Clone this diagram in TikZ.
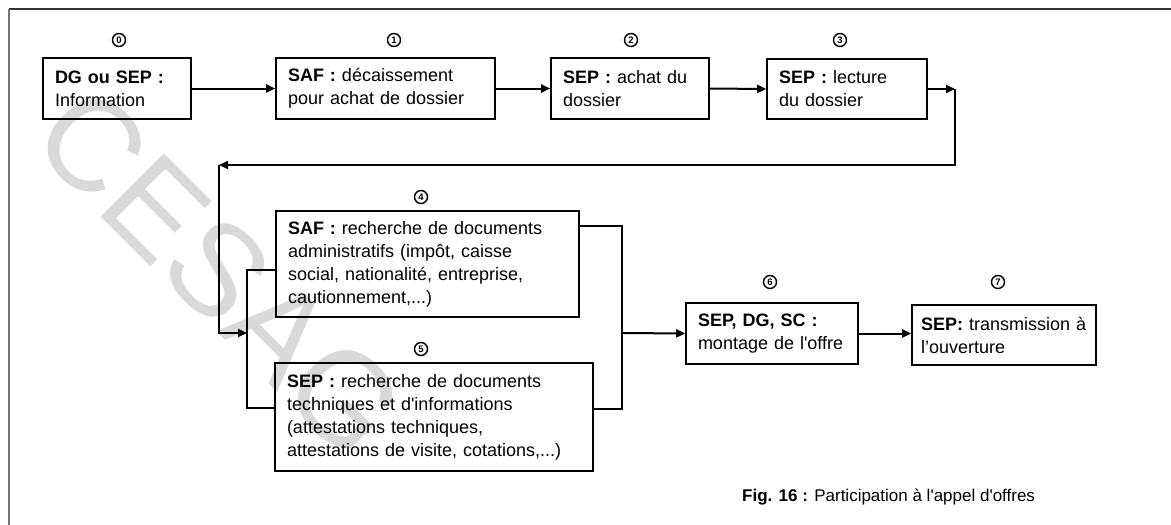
\documentclass[tikz,border=0pt]{standalone}
\usepackage{fontspec}
\setmainfont{Liberation Sans}
\usetikzlibrary{arrows.meta,calc}

\begin{document}
\begin{tikzpicture}[x=1pt,y=-1pt,
  stepbox/.style={draw, line width=1.6pt, inner xsep=12pt, inner ysep=0pt,
    align=left, font=\fontsize{18}{23}\selectfont},
  flow/.style={line width=2pt, -{Triangle[length=9pt,width=8pt]}},
  link/.style={line width=1.5pt},
  num/.style={circle, draw, line width=1.4pt, inner sep=0pt, minimum size=13pt,
    font=\bfseries\fontsize{9.5}{9.5}\selectfont},
  wmark/.style={rotate=-45, text=black!15, inner sep=0pt,
    font=\fontsize{130}{130}\selectfont}
]
\useasboundingbox (0,0) rectangle (1171,525);

% faint stamp behind the figure
\node[wmark] (stamp) at (220,272) {CESAG};

% frame
\draw[line width=1.8pt, black!80] (9,9) -- (1171,9);
\draw[line width=1.3pt, black!55] (9,9) -- (9,525);

% first row
\node[stepbox, minimum width=148pt, text width=124pt, minimum height=61pt] (b0) at (117,88.5)
  {\textbf{DG ou SEP :}\\Information};
\node[stepbox, minimum width=219pt, text width=195pt, minimum height=61pt] (b1) at (385.5,88.5)
  {\textbf{SAF :} décaissement\\pour achat de dossier};
\node[stepbox, minimum width=158pt, text width=134pt, minimum height=61pt] (b2) at (630,88.5)
  {\textbf{SEP :} achat du\\dossier};
\node[stepbox, minimum width=160pt, text width=136pt, minimum height=60pt] (b3) at (847,89)
  {\textbf{SEP :} lecture\\du dossier};

% parallel tasks
\node[stepbox, minimum width=303pt, text width=279pt, minimum height=106pt] (b4) at (427.5,264)
  {\textbf{SAF :} recherche de documents\\administratifs (impôt, caisse\\social, nationalité, entreprise,\\cautionnement,...)};
\node[stepbox, minimum width=318pt, text width=294pt, minimum height=108pt] (b5) at (434,417)
  {\textbf{SEP :} recherche de documents\\techniques et d\textquotesingle informations\\(attestations techniques,\\attestations de visite, cotations,...)};

% last row
\node[stepbox, minimum width=172pt, text width=148pt, minimum height=61pt] (b6) at (772,333.5)
  {\textbf{SEP, DG, SC :}\\montage de l\textquotesingle offre};
\node[stepbox, inner xsep=9pt, minimum width=184pt, text width=166pt, minimum height=60pt] (b7) at (1004,335)
  {\textbf{SEP:} transmission à\\l'ouverture};

% step numbers
\node[num] (n0) at (119,40) {0};
\node[num] (n1) at (394,40) {1};
\node[num] (n2) at (631,40) {2};
\node[num] (n3) at (840,40) {3};
\node[num] (n4) at (421,197) {4};
\node[num] (n5) at (421,349) {5};
\node[num] (n6) at (770,282) {6};
\node[num] (n7) at (998,282) {7};

% turning points
\coordinate (r1) at (955,89);
\coordinate (r2) at (219,165);
\coordinate (jl) at (247,333);
\coordinate (jr) at (622,333);

% connectors
\draw[flow] (b0.east) -- (b1.west);
\draw[flow] (b1.east) -- (b2.west);
\draw[flow] (b2.east) -- (b3.west);
\draw[flow] (b3.east) -- (r1);
\draw[flow] (r1) |- (r2);
\draw[flow] (r2) |- (jl);
\draw[link] ([yshift=-6pt]b4.west) -| (jl) |- ([yshift=9pt]b5.west);
\draw[link] ([yshift=38pt]b4.east) -| (jr) |- ([yshift=8pt]b5.east);
\draw[flow] (jr) -- (b6.west);
\draw[flow] (b6.east) -- (b7.west |- b6.east);

% caption
\node[anchor=west, inner sep=0pt, font=\fontsize{17}{20}\selectfont] (cap) at (742,497)
  {\textbf{Fig. 16 :} Participation à l\textquotesingle appel d\textquotesingle offres};
\end{tikzpicture}
\end{document}
